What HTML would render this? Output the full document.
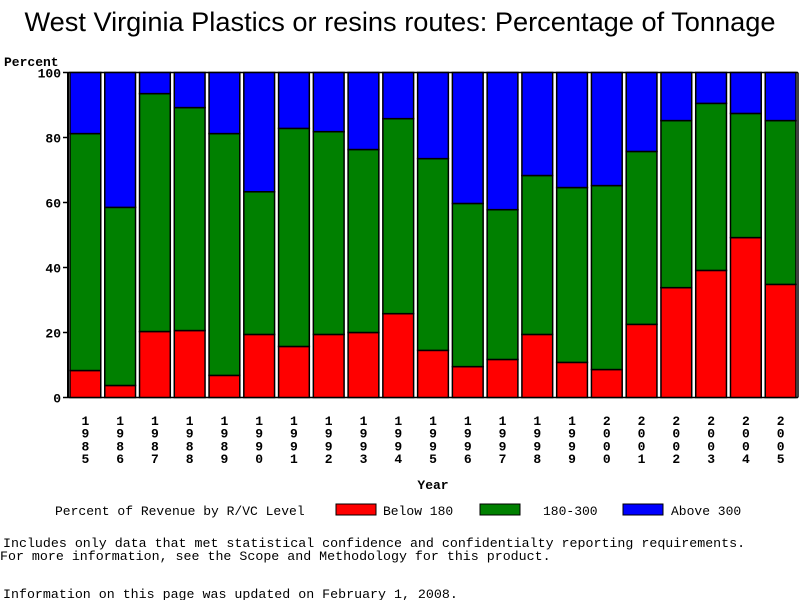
<!DOCTYPE html>
<html><head><meta charset="utf-8"><style>
body{margin:0;background:#fff;}
svg{display:block;}
text{font-family:"Liberation Mono",monospace;}
</style></head><body>
<svg width="800" height="600" viewBox="0 0 800 600" xmlns="http://www.w3.org/2000/svg">
<text x="400" y="31" text-anchor="middle" style="font-family:'Liberation Sans',sans-serif;font-size:27.2px">West Virginia Plastics or resins routes: Percentage of Tonnage</text>
<text x="4" y="66" font-size="13" font-weight="bold">Percent</text>
<g id="yaxis"></g>
<g id="bars"></g>
<g id="xaxis"></g>
<text x="433" y="489" text-anchor="middle" font-size="13" font-weight="bold">Year</text>
<g font-size="13">
<text x="55" y="515">Percent of Revenue by R/VC Level</text>
<g><rect x="336" y="504" width="40" height="11" fill="#f00" stroke="#000"/><text x="383" y="515">Below 180</text></g>
<g><rect x="480" y="504" width="40" height="11" fill="#008000" stroke="#000"/><text x="543" y="515">180-300</text></g>
<g><rect x="623" y="504" width="40" height="11" fill="#00f" stroke="#000"/><text x="671" y="515">Above 300</text></g>
</g>
<text x="3" y="547" font-size="13.3">Includes only data that met statistical confidence and confidentialty reporting requirements.</text>
<text x="0" y="560" font-size="13.3">For more information, see the Scope and Methodology for this product.</text>
<text x="3" y="598" font-size="13.3">Information on this page was updated on February 1, 2008.</text>
</svg>
<script>
const years=["1985","1986","1987","1988","1989","1990","1991","1992","1993","1994","1995","1996","1997","1998","1999","2000","2001","2002","2003","2004","2005"];
const below180=[8.3,3.7,20.3,20.6,6.8,19.4,15.7,19.4,20,25.8,14.5,9.5,11.7,19.4,10.8,8.6,22.5,33.8,39.1,49.2,34.8];
const mid180_300=[72.9,54.8,73.2,68.6,74.4,43.9,67.1,62.4,56.3,60,59,50.2,46.1,48.9,53.8,56.6,53.2,51.4,51.4,38.2,50.4];
const yTicks=[0,20,40,60,80,100];
const NS="http://www.w3.org/2000/svg";
const X0=68,X1=798,Y0=397.5,Y1=72.5;
const band=(X1-X0)/years.length;
const yS=v=>Y0-(v/100)*(Y0-Y1);
const xS=i=>X0+i*band;
function mk(tag,attrs,parent){const e=document.createElementNS(NS,tag);for(const k in attrs)e.setAttribute(k,attrs[k]);parent.appendChild(e);return e;}
const ya=document.getElementById('yaxis'),bg=document.getElementById('bars'),xa=document.getElementById('xaxis');
let l=mk('line',{x1:X0,y1:Y1,x2:X0,y2:Y0,stroke:'#000','stroke-width':2},ya);


yTicks.forEach(t=>{
 const tk=mk('line',{x1:X0-5,y1:yS(t),x2:X0,y2:yS(t),stroke:'#000','stroke-width':1.5},ya);
 
 
 const tx=mk('text',{x:X0-7,y:yS(t)+5,'text-anchor':'end','font-size':13,'font-weight':'bold'},ya);
 tx.textContent=t;
 
 
});
years.forEach((y,i)=>{
 const x=xS(i)+2,w=band-4;
 const r=below180[i],g=mid180_300[i];
 const segs=[[0,r,'#f00','bar-below-180-'+y],[r,r+g,'#008000','bar-180-300-'+y],[r+g,100,'#00f','bar-above-300-'+y]];
 segs.forEach(s=>{
  const rc=mk('rect',{x:x,y:yS(s[1]),width:w,height:yS(s[0])-yS(s[1]),fill:s[2],stroke:'#000','stroke-width':1.5},bg);
  
  
 });
 const cx=xS(i)+band/2;
 y.split('').forEach((d,k)=>{
  const tx=mk('text',{x:cx,y:425+k*12.7,'text-anchor':'middle','font-size':13,'font-weight':'bold'},xa);
  tx.textContent=d;
  
  
 });
});
l=mk('line',{x1:X0,y1:Y1,x2:X1,y2:Y1,stroke:'#000','stroke-width':1.5},ya);


l=mk('line',{x1:X1,y1:Y1,x2:X1,y2:Y0,stroke:'#000','stroke-width':1.5},ya);


l=mk('line',{x1:X0,y1:Y0,x2:X1,y2:Y0,stroke:'#000','stroke-width':1.5},ya);


</script>
</body></html>
